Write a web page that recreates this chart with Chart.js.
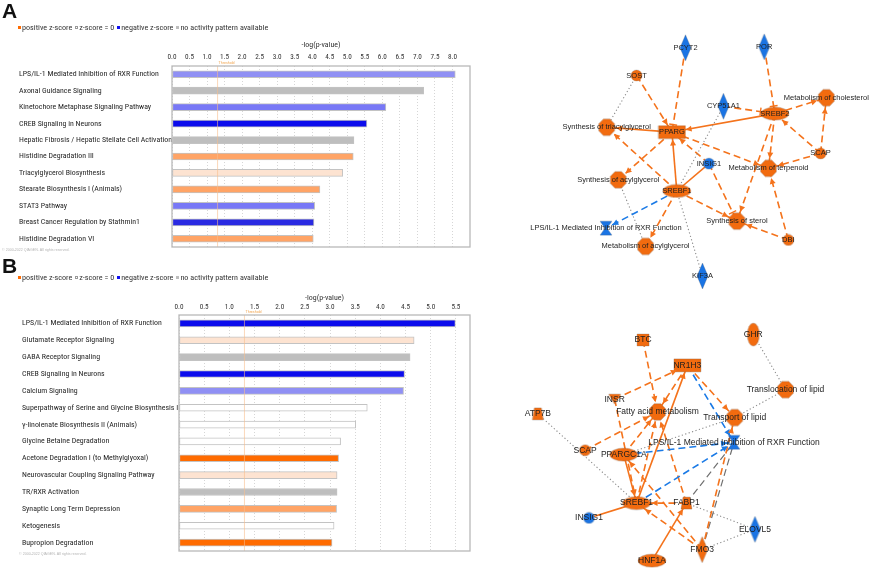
<!DOCTYPE html>
<html>
<head>
<meta charset="utf-8">
<script src="https://cdn.jsdelivr.net/npm/chart.js@4.4.1/dist/chart.umd.min.js"></script>
<style>
  html, body { margin: 0; padding: 0; background: #fff; }
  body { width: 879px; height: 575px; position: relative; overflow: hidden; }
  canvas { position: absolute; }
  .panel { position: absolute; font: bold 21px 'Liberation Sans', Arial, sans-serif; line-height: 21px; color: #111; }
  .legend { position: absolute; line-height: 10px; color: #333; white-space: nowrap; }
  .legend span { margin-right: 3px; }
  .legend i { display: inline-block; width: 3px; height: 3px; margin-right: 1px; vertical-align: 1px; box-sizing: border-box; }
</style>
</head>
<body>
<canvas id="barA" width="479" height="258" style="left:0;top:0"></canvas>
<canvas id="barB" width="479" height="317" style="left:0;top:258px"></canvas>
<canvas id="netA" width="399" height="310" style="left:480px;top:0"></canvas>
<canvas id="netB" width="399" height="280" style="left:480px;top:295px"></canvas>
<div class="panel" style="left:2px;top:0">A</div>
<div class="panel" style="left:2px;top:255px">B</div>
<div class="legend" id="legA" style="left:18px;top:22px"></div>
<div class="legend" id="legB" style="left:18px;top:272px"></div>
<script>
// ---- panel A: top canonical pathways ----
const pathwaysA = ['LPS/IL-1 Mediated Inhibition of RXR Function', 'Axonal Guidance Signaling', 'Kinetochore Metaphase Signaling Pathway',
  'CREB Signaling in Neurons', 'Hepatic Fibrosis / Hepatic Stellate Cell Activation', 'Histidine Degradation III',
  'Triacylglycerol Biosynthesis', 'Stearate Biosynthesis I (Animals)', 'STAT3 Pathway',
  'Breast Cancer Regulation by Stathmin1', 'Histidine Degradation VI'];
const minusLogPA = [8.08, 7.18, 6.10, 5.56, 5.19, 5.17, 4.87, 4.22, 4.07, 4.05, 4.03];
const zScoreA = ['negLight', 'none', 'negMid', 'negStrong', 'none', 'posMid', 'posLight', 'posMid', 'negMid', 'negDark', 'posMid'];
const ticksA = [0, 0.5, 1, 1.5, 2, 2.5, 3, 3.5, 4, 4.5, 5, 5.5, 6, 6.5, 7, 7.5, 8];

// ---- panel B ----
const pathwaysB = ['LPS/IL-1 Mediated Inhibition of RXR Function', 'Glutamate Receptor Signaling', 'GABA Receptor Signaling',
  'CREB Signaling in Neurons', 'Calcium Signaling', 'Superpathway of Serine and Glycine Biosynthesis I',
  'γ-linolenate Biosynthesis II (Animals)', 'Glycine Betaine Degradation', 'Acetone Degradation I (to Methylglyoxal)',
  'Neurovascular Coupling Signaling Pathway', 'TR/RXR Activation', 'Synaptic Long Term Depression', 'Ketogenesis',
  'Bupropion Degradation'];
const minusLogPB = [5.49, 4.67, 4.59, 4.48, 4.46, 3.74, 3.51, 3.21, 3.17, 3.14, 3.14, 3.13, 3.08, 3.04];
const zScoreB = ['negStrong', 'posLight', 'none', 'negStrong', 'negLight', 'zero', 'zero', 'zero', 'posStrong', 'posLight',
  'none', 'posMid', 'zero', 'posStrong'];
const ticksB = [0, 0.5, 1, 1.5, 2, 2.5, 3, 3.5, 4, 4.5, 5, 5.5];

const thresholdP = 1.3;
const legendItems = ['positive z-score', 'z-score = 0', 'negative z-score', 'no activity pattern available'];

// ---- networks ----
const LPS = 'LPS/IL-1 Mediated Inhibition of RXR Function';
const netANodes = ['PCYT2', 'POR', 'SOST', 'CYP51A1', 'SREBF2', 'Metabolism of cholesterol', 'Synthesis of triacylglycerol',
  'PPARG', 'SCAP', 'INSIG1', 'Metabolism of terpenoid', 'Synthesis of acylglycerol', 'SREBF1', LPS,
  'Synthesis of sterol', 'DBI', 'Metabolism of acylglycerol', 'KIF3A'];
const netAX = [685.7, 767.3, 635, 725, 778.3, 831.7, 604, 671.7, 825.7, 710, 771.7, 616, 676.7, 603.3, 739, 792.3, 644.3, 703.3];
const netAY = [42.7, 41.7, 71.7, 104, 111.7, 95, 126, 131, 153.3, 164, 169, 181, 192.7, 231.7, 224.3, 244, 250.7, 281.7];
const netAKind = ['enz', 'enz', 'oth', 'enz', 'tf', 'fn', 'fn', 'nr', 'oth', 'oth', 'fn', 'fn', 'tf', 'path', 'fn', 'oth', 'fn', 'enz'];
const netAUp = [0, 0, 1, 0, 1, 1, 1, 1, 1, 0, 1, 1, 1, 0, 1, 1, 1, 0];
// [source, target, colour+line+head]  o/b/g/k  s/d/p  a/t/n
const netAEdges = [
  ['PCYT2', 'PPARG', 'odt'], ['POR', 'SREBF2', 'odt'], ['SOST', 'PPARG', 'oda'], ['SOST', 'Synthesis of triacylglycerol', 'gpn'],
  ['CYP51A1', 'SREBF2', 'odt'], ['CYP51A1', 'SREBF1', 'gpn'], ['SREBF2', 'PPARG', 'osa'], ['SREBF2', 'Metabolism of cholesterol', 'oda'],
  ['SREBF2', 'Metabolism of terpenoid', 'oda'], ['SREBF2', 'Synthesis of sterol', 'oda'], ['SCAP', 'SREBF2', 'oda'],
  ['SCAP', 'Metabolism of cholesterol', 'oda'], ['SCAP', 'Metabolism of terpenoid', 'oda'], ['PPARG', 'Synthesis of triacylglycerol', 'osa'],
  ['PPARG', 'Synthesis of acylglycerol', 'oda'], ['PPARG', 'Metabolism of terpenoid', 'oda'], ['SREBF1', 'PPARG', 'osa'],
  ['SREBF1', 'Synthesis of triacylglycerol', 'oda'], ['SREBF1', 'Metabolism of acylglycerol', 'oda'], ['SREBF1', 'Synthesis of sterol', 'oda'],
  ['INSIG1', 'SREBF1', 'osn'], ['INSIG1', 'PPARG', 'oda'], ['INSIG1', 'Synthesis of sterol', 'odt'], ['SREBF1', LPS, 'bda'],
  ['DBI', 'Metabolism of terpenoid', 'oda'], ['DBI', 'Synthesis of sterol', 'oda'],
  ['Synthesis of acylglycerol', 'Metabolism of acylglycerol', 'gpn'], ['SREBF1', 'KIF3A', 'gpn']
];

const netBNodes = ['GHR', 'BTC', 'NR1H3', 'Translocation of lipid', 'INSR', 'ATP7B', 'Fatty acid metabolism', 'Transport of lipid',
  LPS, 'SCAP', 'PPARGC1A', 'SREBF1', 'FABP1', 'INSIG1', 'ELOVL5', 'FMO3', 'HNF1A'];
const netBX = [756, 641.7, 687.7, 789.3, 612.3, 532.7, 656.7, 736.7, 736, 581.7, 621.7, 635, 686.7, 585.7, 757.7, 703, 651];
const netBY = [329.3, 335, 361.7, 387.3, 397.3, 412.7, 410.7, 416.7, 442.7, 451, 455.7, 506.7, 506.7, 522.3, 534.3, 555.7, 567.3];
const netBKind = ['rec', 'gf', 'nr', 'fn', 'kin', 'tr', 'fn', 'fn', 'path', 'oth', 'tf', 'tf', 'tr', 'oth', 'enz', 'enz', 'tf'];
const netBUp = [1, 1, 1, 1, 1, 1, 1, 1, 0, 1, 1, 1, 1, 0, 0, 1, 1];
const netBEdges = [
  ['GHR', 'Translocation of lipid', 'gpn'], ['Translocation of lipid', 'Transport of lipid', 'gpn'], ['PPARGC1A', 'Transport of lipid', 'gpn'],
  ['BTC', 'Fatty acid metabolism', 'oda'], ['INSR', 'NR1H3', 'oda'], ['INSR', 'SREBF1', 'oda'],
  ['NR1H3', 'Fatty acid metabolism', 'oda'], ['NR1H3', 'Transport of lipid', 'oda'], ['NR1H3', LPS, 'bda'],
  ['SREBF1', 'NR1H3', 'osa'], ['SCAP', 'Fatty acid metabolism', 'oda'], ['ATP7B', 'SREBF1', 'gpn'],
  ['PPARGC1A', 'SREBF1', 'osa'], ['SREBF1', 'Fatty acid metabolism', 'oda'], ['SREBF1', LPS, 'bda'], ['PPARGC1A', LPS, 'bda'],
  ['FABP1', 'SREBF1', 'oda'], ['FABP1', 'Fatty acid metabolism', 'oda'], ['FMO3', 'Transport of lipid', 'oda'],
  ['FMO3', LPS, 'kdn'], ['FABP1', LPS, 'kdn'], ['FMO3', 'SREBF1', 'oda'], ['FMO3', 'PPARGC1A', 'oda'],
  ['HNF1A', 'FABP1', 'osa'], ['INSIG1', 'SREBF1', 'osn'], ['FABP1', 'ELOVL5', 'gpn'], ['ELOVL5', 'FMO3', 'gpn'],
  ['PPARGC1A', 'Fatty acid metabolism', 'oda']
];

// ---- styles ----
const NARROW = "'Liberation Sans Narrow', 'Roboto Condensed', 'Open Sans', sans-serif";
const ARIAL = "'Liberation Sans', Arial, sans-serif";
const zColors = {
  negStrong: '#0c0cec', negDark: '#2a2ae2', negMid: '#7878f6', negLight: '#9090f4',
  none: '#bebebe', zero: '#ffffff', posLight: '#fde3d1', posMid: '#ffa466', posStrong: '#ff6b00'
};
const ORANGE = '#f26b0f', BLUE = '#1a74e4';
const shapeSize = { fn: [17, 18], tf: [28, 13], nr: [27, 13], enz: [11, 26], oth: [11, 11], path: [12, 14], gf: [12, 12], tr: [11, 12], rec: [12, 23], kin: [12, 10] };
const edgeColor = { o: '#f4731c', b: '#1a7ae6', g: '#8a8a8a', k: '#707070' };

const probe = document.createElement('canvas').getContext('2d');
function fitSize(family, text, width) {
  probe.font = '20px ' + family;
  return +(20 * width / probe.measureText(text).width).toFixed(2);
}
const labelSize = fitSize(NARROW, pathwaysA[0], 140);
const tickSize = fitSize(NARROW, '0.0', 9);
const titleSize = fitSize(NARROW, '-log(p-value)', 39);
const legendSize = fitSize(NARROW, legendItems[3], 88);

// legends
const legendSwatch = ['background:#ff6b00', 'background:#fff;border:0.6px solid #999', 'background:#1010f0', 'background:#bdbdbd'];
['legA', 'legB'].forEach(id => {
  const el = document.getElementById(id);
  el.style.fontFamily = NARROW;
  el.style.fontSize = legendSize + 'px';
  el.innerHTML = legendItems.map((t, i) => '<span><i style="' + legendSwatch[i] + '"></i>' + t + '</span>').join('');
});

function decor(g) {
  return {
    id: 'decor',
    afterDatasetsDraw(chart) {
      const { ctx, chartArea: a, scales: { x } } = chart;
      const tx = x.getPixelForValue(thresholdP);
      ctx.save();
      ctx.strokeStyle = 'rgba(248,190,140,0.6)';
      ctx.lineWidth = 1;
      ctx.beginPath(); ctx.moveTo(tx, a.top); ctx.lineTo(tx, a.bottom); ctx.stroke();
      ctx.strokeStyle = '#b9b9b9';
      ctx.lineWidth = 1.3;
      ctx.strokeRect(a.left, a.top, a.right - a.left, a.bottom - a.top);
      ctx.fillStyle = '#f0a24a';
      ctx.font = '3.6px ' + ARIAL;
      ctx.textBaseline = 'bottom';
      ctx.fillText('Threshold', tx + 1, a.top - 1);
      ctx.fillStyle = '#b5b5b5';
      ctx.textBaseline = 'middle';
      ctx.fillText('© 2000-2022 QIAGEN. All rights reserved.', g.copyX, g.copyY);
      ctx.restore();
    }
  };
}

function barChart(id, labels, values, classes, tickValues, g) {
  return new Chart(document.getElementById(id), {
    type: 'bar',
    data: {
      labels: labels,
      datasets: [{ data: values, backgroundColor: classes.map(c => zColors[c]), borderColor: '#c3c3c3', borderWidth: 1, borderSkipped: false, barThickness: 7 }]
    },
    options: {
      indexAxis: 'y', responsive: false, animation: false, events: [],
      layout: { padding: { left: g.left, right: 9, top: g.top, bottom: g.bottom } },
      plugins: { legend: { display: false }, tooltip: { enabled: false } },
      scales: {
        x: {
          position: 'top', min: 0, max: g.max,
          afterFit: s => { s.height = g.axisH; },
          afterBuildTicks: s => { s.ticks = tickValues.map(v => ({ value: v })); },
          ticks: { padding: g.tickPad, color: '#333', maxRotation: 0, autoSkip: false,
            font: { family: NARROW, size: tickSize },
            callback: v => v.toFixed(1) },
          grid: { color: '#d6d6d6', drawTicks: false },
          border: { display: false, dash: [1, 2] },
          title: { display: true, text: '-log(p-value)', color: '#333', font: { family: NARROW, size: titleSize }, padding: { top: g.titlePad, bottom: 0 } }
        },
        y: {
          afterFit: s => { s.width = g.yW; },
          ticks: { crossAlign: 'far', padding: 0, color: '#262626', autoSkip: false, font: { family: NARROW, size: labelSize } },
          grid: { display: false },
          border: { display: false }
        }
      }
    },
    plugins: [decor(g)]
  });
}

barChart('barA', pathwaysA, minusLogPA, zScoreA, ticksA,
  { left: 19, top: 40, bottom: 11, axisH: 26, yW: 153, max: 8.5, tickPad: 4, titlePad: 0.5, copyX: 2, copyY: 250 });
barChart('barB', pathwaysB, minusLogPB, zScoreB, ticksB,
  { left: 22, top: 35, bottom: 24, axisH: 22, yW: 157, max: 5.78, tickPad: 3, titlePad: 0.5, copyX: 19, copyY: 296 });

// ---- network drawing ----
function makeShape(kind, color) {
  const [w, h] = shapeSize[kind];
  const c = document.createElement('canvas');
  c.width = w + 2; c.height = h + 2;
  const g = c.getContext('2d');
  const cx = c.width / 2, cy = c.height / 2, rx = w / 2, ry = h / 2;
  g.fillStyle = color;
  g.strokeStyle = 'rgba(90,90,90,0.35)';
  g.lineWidth = 0.7;
  g.beginPath();
  if (kind === 'fn') {
    for (let k = 0; k < 8; k++) {
      const t = Math.PI / 8 + k * Math.PI / 4;
      g.lineTo(cx + rx * Math.cos(t), cy + ry * Math.sin(t));
    }
    g.closePath();
  } else if (kind === 'tf' || kind === 'oth' || kind === 'rec') {
    g.ellipse(cx, cy, rx, ry, 0, 0, Math.PI * 2);
  } else if (kind === 'enz') {
    g.moveTo(cx, cy - ry); g.lineTo(cx + rx, cy); g.lineTo(cx, cy + ry); g.lineTo(cx - rx, cy); g.closePath();
  } else if (kind === 'path') {
    g.moveTo(cx - rx, cy - ry); g.lineTo(cx + rx, cy - ry); g.lineTo(cx + 1, cy); g.lineTo(cx + rx, cy + ry);
    g.lineTo(cx - rx, cy + ry); g.lineTo(cx - 1, cy); g.closePath();
  } else if (kind === 'kin') {
    g.moveTo(cx - rx, cy - ry); g.lineTo(cx + rx, cy - ry); g.lineTo(cx, cy + ry); g.closePath();
  } else if (kind === 'tr') {
    g.moveTo(cx - rx + 2, cy - ry); g.lineTo(cx + rx - 2, cy - ry); g.lineTo(cx + rx, cy + ry); g.lineTo(cx - rx, cy + ry); g.closePath();
  } else {
    g.rect(cx - rx, cy - ry, w, h);
  }
  g.fill();
  g.stroke();
  return c;
}

function netChart(id, yMin, yMax, names, xs, ys, kinds, up, edges, fontSize) {
  const at = n => names.indexOf(n);
  const edgeSets = edges.map(([a, b, code]) => ({
    data: [{ x: xs[at(a)], y: ys[at(a)] }, { x: xs[at(b)], y: ys[at(b)] }],
    showLine: true, pointRadius: 0, order: 1, clip: false,
    borderColor: edgeColor[code[0]],
    borderWidth: code[1] === 'p' ? 1.1 : (code[0] === 'k' ? 1.2 : 1.6),
    borderDash: code[1] === 's' ? [] : code[1] === 'p' ? [1.2, 2.4] : [7, 4]
  }));
  const heads = {
    id: 'heads',
    afterDatasetsDraw(chart) {
      const { ctx, scales: { x, y } } = chart;
      ctx.save();
      edges.forEach(([a, b, code]) => {
        if (code[2] === 'n') return;
        const i = at(a), j = at(b);
        const x1 = x.getPixelForValue(xs[i]), y1 = y.getPixelForValue(ys[i]);
        const x2 = x.getPixelForValue(xs[j]), y2 = y.getPixelForValue(ys[j]);
        const len = Math.hypot(x2 - x1, y2 - y1), ux = (x2 - x1) / len, uy = (y2 - y1) / len;
        const [w, h] = shapeSize[kinds[j]];
        const back = 1 / Math.sqrt((ux / (w / 2)) ** 2 + (uy / (h / 2)) ** 2) + 1;
        const tx = x2 - ux * back, ty = y2 - uy * back;
        ctx.fillStyle = ctx.strokeStyle = edgeColor[code[0]];
        ctx.beginPath();
        if (code[2] === 'a') {
          ctx.moveTo(tx, ty);
          ctx.lineTo(tx - ux * 6 - uy * 3, ty - uy * 6 + ux * 3);
          ctx.lineTo(tx - ux * 6 + uy * 3, ty - uy * 6 - ux * 3);
          ctx.closePath();
          ctx.fill();
        } else {
          ctx.lineWidth = 1.4;
          ctx.moveTo(tx - uy * 4, ty + ux * 4);
          ctx.lineTo(tx + uy * 4, ty - ux * 4);
          ctx.stroke();
        }
      });
      ctx.fillStyle = '#1e1e1e';
      ctx.font = fontSize + 'px ' + ARIAL;
      ctx.textAlign = 'center';
      ctx.textBaseline = 'middle';
      names.forEach((n, i) => ctx.fillText(n, x.getPixelForValue(xs[i]), y.getPixelForValue(ys[i])));
      ctx.restore();
    }
  };
  return new Chart(document.getElementById(id), {
    type: 'scatter',
    data: {
      datasets: [{
        data: xs.map((v, i) => ({ x: v, y: ys[i] })),
        pointStyle: kinds.map((k, i) => makeShape(k, up[i] ? ORANGE : BLUE)),
        pointRadius: 6, order: 0, clip: false
      }].concat(edgeSets)
    },
    options: {
      responsive: false, animation: false, events: [],
      layout: { padding: 0 },
      plugins: { legend: { display: false }, tooltip: { enabled: false } },
      scales: {
        x: { type: 'linear', min: 480, max: 879, display: false },
        y: { type: 'linear', min: yMin, max: yMax, reverse: true, display: false }
      }
    },
    plugins: [heads]
  });
}

netChart('netA', 0, 310, netANodes, netAX, netAY, netAKind, netAUp, netAEdges, 7.5);
netChart('netB', 295, 575, netBNodes, netBX, netBY, netBKind, netBUp, netBEdges, 8.5);
</script>
</body>
</html>
